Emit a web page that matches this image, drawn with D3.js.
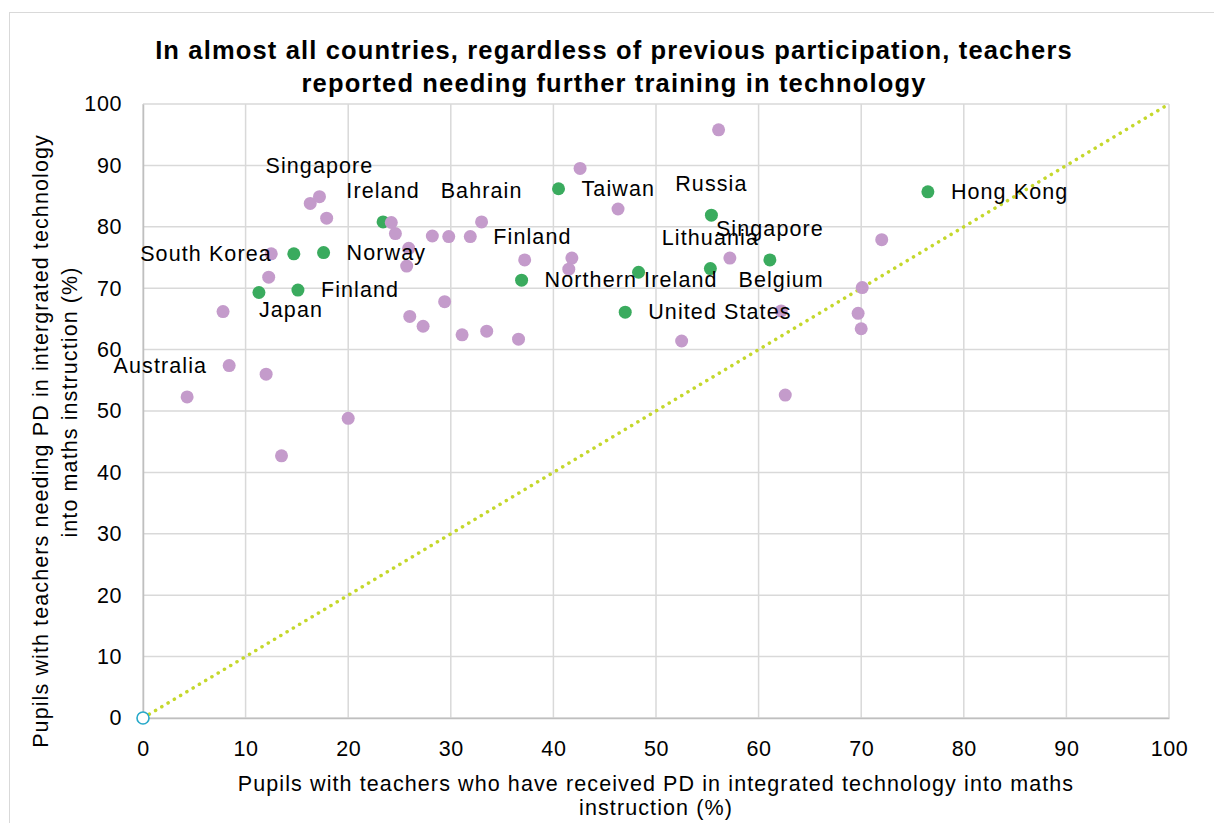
<!DOCTYPE html>
<html><head><meta charset="utf-8">
<script src="https://cdn.jsdelivr.net/npm/d3@7"></script>
<style>
html,body{margin:0;padding:0;background:#fff;}
svg{display:block;font-family:"Liberation Sans",Arial,sans-serif;}
</style></head>
<body><svg id="chart" width="1214" height="823"></svg>
<script>
// ---- data ----
const titleLines = ["In almost all countries, regardless of previous participation, teachers",
                    "reported needing further training in technology"];
const xTitleLines = ["Pupils with teachers who have received PD in integrated technology into maths",
                     "instruction (%)"];
const yTitleLines = ["Pupils with teachers needing PD in intergrated technology",
                     "into maths instruction (%)"];
const xTicks = [0,10,20,30,40,50,60,70,80,90,100];
const yTicks = [0,10,20,30,40,50,60,70,80,90,100];

const greenX = [23.4, 14.7, 17.6, 11.3, 15.1, 40.5, 55.4, 36.9, 48.3, 55.3, 61.1, 47.0, 76.5];
const greenY = [80.8, 75.6, 75.8, 69.3, 69.7, 86.2, 81.9, 71.3, 72.6, 73.2, 74.6, 66.1, 85.7];
const greenLabels = ["Ireland","South Korea","Norway","Japan","Finland","Taiwan","Russia",
                     "Northern Ireland","","Lithuania","Singapore","United States","Hong Kong"];
const greenLabelSide = ["above","left","right","belowRight","right","right","above",
                        "right","","above","above","right","right"];

const purpleX = [16.3, 17.2, 17.9, 24.2, 24.6, 28.2, 29.8, 25.9, 25.7, 12.5, 12.25, 7.8, 29.4, 26.0, 27.3,
                 8.4, 12.0, 4.3, 20.0, 13.5, 56.1, 42.6, 46.3, 33.0, 31.9, 37.2, 41.8, 41.5, 57.2,
                 31.1, 33.5, 36.6, 52.5, 72.0, 70.1, 69.7, 70.0, 62.2, 62.6];
const purpleY = [83.8, 84.9, 81.4, 80.7, 78.9, 78.5, 78.4, 76.5, 73.6, 75.6, 71.8, 66.2, 67.8, 65.4, 63.8,
                 57.4, 56.0, 52.3, 48.8, 42.7, 95.8, 89.5, 82.9, 80.8, 78.4, 74.6, 74.9, 73.1, 74.9,
                 62.4, 63.0, 61.7, 61.4, 77.9, 70.1, 65.9, 63.4, 66.3, 52.6];
const purpleLabels = {1:"Singapore", 15:"Australia", 23:"Bahrain", 24:"Finland", 37:"Belgium"};
const purpleLabelSide = {1:"above", 15:"left", 23:"above", 24:"right", 37:"above"};

const parityLine = [[0,0],[100,100]];

// ---- layout ----
const svg = d3.select("#chart");
const W = 1214, H = 823;
const plot = {left:143, right:1169, top:104, bottom:718};
const x = d3.scaleLinear().domain([0,100]).range([plot.left, plot.right]);
const y = d3.scaleLinear().domain([0,100]).range([plot.bottom, plot.top]);

const colGreen = "#3aab5e", colPurple = "#c49bcb", colGrid = "#d9d9d9";
const FS = 21.5, LS = "1.1px";

// outer chart border
svg.append("rect").attr("x",9.5).attr("y",12.5).attr("width",W).attr("height",H)
  .attr("fill","none").attr("stroke","#d9d9d9").attr("stroke-width",1);

// title
svg.append("g").selectAll("text").data(titleLines).join("text")
  .attr("x",614).attr("y",(d,i)=>50+i*33).attr("text-anchor","middle")
  .attr("dominant-baseline","central").attr("letter-spacing","1.15px")
  .attr("font-size",25.5).attr("font-weight","bold").attr("fill","#000").text(d=>d);

// gridlines
const grid = svg.append("g");
grid.selectAll(".vg").data(xTicks).join("line")
  .attr("x1",d=>x(d)).attr("x2",d=>x(d)).attr("y1",plot.top).attr("y2",plot.bottom)
  .attr("stroke",colGrid).attr("stroke-width",1.5);
grid.selectAll(".hg").data(yTicks).join("line")
  .attr("x1",plot.left).attr("x2",plot.right).attr("y1",d=>y(d)).attr("y2",d=>y(d))
  .attr("stroke",colGrid).attr("stroke-width",1.5);

// axes
const xAxis = d3.axisBottom(x).tickValues(xTicks).tickSize(0).tickPadding(21);
const yAxis = d3.axisLeft(y).tickValues(yTicks).tickSize(0).tickPadding(21);
const gx = svg.append("g").attr("transform",`translate(0,${plot.bottom})`).call(xAxis);
const gy = svg.append("g").attr("transform",`translate(${plot.left},0)`).call(yAxis);
[gx,gy].forEach(g=>{
  g.select(".domain").attr("stroke","#bfbfbf").attr("stroke-width",1.5);
  g.selectAll("text").attr("font-size",FS).attr("fill","#000").attr("letter-spacing","0.6px")
   .attr("font-family","'Liberation Sans',Arial,sans-serif");
});
gx.selectAll("text").attr("dy","0.35em").attr("y",30);

// axis titles
svg.append("g").selectAll("text").data(xTitleLines).join("text")
  .attr("x",656).attr("y",(d,i)=>784+i*24).attr("text-anchor","middle")
  .attr("dominant-baseline","central").attr("letter-spacing",LS)
  .attr("font-size",FS).attr("fill","#000").text(d=>d);
const yTitlePos = [[41,441],[70,402]];
svg.append("g").selectAll("text").data(yTitleLines).join("text")
  .attr("transform",(d,i)=>`translate(${yTitlePos[i][0]},${yTitlePos[i][1]}) rotate(-90)`)
  .attr("text-anchor","middle").attr("dominant-baseline","central").attr("letter-spacing",LS)
  .attr("font-size",FS).attr("fill","#000").text(d=>d);

// parity line (dotted)
svg.append("path").datum(parityLine)
  .attr("d",d3.line().x(d=>x(d[0])).y(d=>y(d[1])))
  .attr("fill","none").attr("stroke","#c5d82c").attr("stroke-width",3.5)
  .attr("stroke-linecap","round").attr("stroke-dasharray","0.1,7.2");
svg.append("circle").attr("cx",x(parityLine[0][0])).attr("cy",y(parityLine[0][1])).attr("r",6)
  .attr("fill","#fff").attr("stroke","#27a9c9").attr("stroke-width",1.6);

// points
const greenData = greenX.map((v,i)=>({x:v,y:greenY[i],label:greenLabels[i],side:greenLabelSide[i]}));
const purpleData = purpleX.map((v,i)=>({x:v,y:purpleY[i],label:purpleLabels[i]||"",side:purpleLabelSide[i]||""}));

svg.append("g").selectAll("circle").data(greenData).join("circle")
  .attr("cx",d=>x(d.x)).attr("cy",d=>y(d.y)).attr("r",6.5).attr("fill",colGreen);
svg.append("g").selectAll("circle").data(purpleData).join("circle")
  .attr("cx",d=>x(d.x)).attr("cy",d=>y(d.y)).attr("r",6.5).attr("fill",colPurple);

// labels
const labelled = greenData.concat(purpleData).filter(d=>d.label);
svg.append("g").selectAll("text").data(labelled).join("text")
  .attr("x",d=>{
    const px=x(d.x);
    if(d.side==="left") return px-22;
    if(d.side==="right") return px+23;
    return px;
  })
  .attr("y",d=>{
    const py=y(d.y);
    if(d.side==="above") return py-31;
    if(d.side==="belowRight") return py+18;
    return py;
  })
  .attr("text-anchor",d=>d.side==="left"?"end":(d.side==="above"?"middle":"start"))
  .attr("dominant-baseline","central").attr("letter-spacing",LS)
  .attr("font-size",FS).attr("fill","#000").text(d=>d.label);
</script>
</body></html>
